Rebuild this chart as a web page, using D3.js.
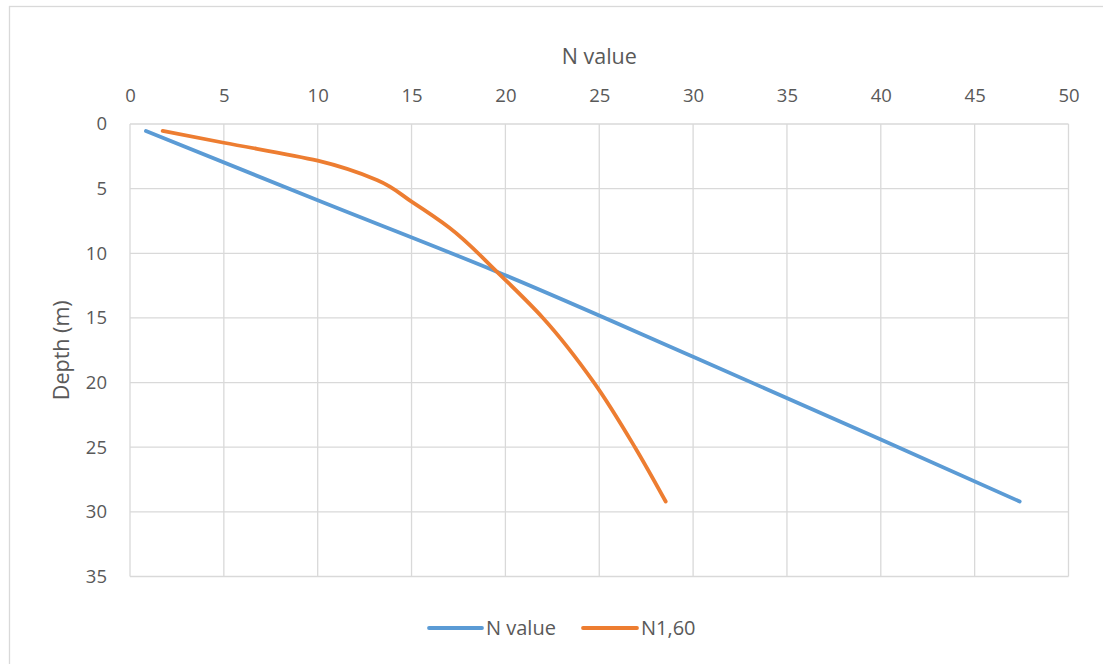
<!DOCTYPE html>
<html><head><meta charset="utf-8">
<script src="https://cdn.jsdelivr.net/npm/d3@7"></script>
<style>
html,body{margin:0;padding:0;background:#fff;}
svg text{font-family:"Open Sans",Calibri,sans-serif;fill:#595959;}
</style></head>
<body><svg id="chart" width="1103" height="664"></svg>
<script>
// Data
const nValueN     = [0.85, 10, 19.54, 30, 40, 47.4];
const nValueDepth = [0.54, 5.9, 11.42, 18.0, 24.4, 29.2];
const n160N       = [1.74, 5, 10, 13.15, 15, 17.0, 19.54, 22.0, 24.72, 26.9, 28.54];
const n160Depth   = [0.54, 1.45, 2.84, 4.33, 6.0, 8.0, 11.42, 15.0, 20.0, 25.0, 29.2];
const xTicks = [0,5,10,15,20,25,30,35,40,45,50];
const yTicks = [0,5,10,15,20,25,30,35];
const seriesNames = ["N value","N1,60"];
const colors = ["#5B9BD5","#ED7D31"];

const svg = d3.select("#chart");
svg.append("rect").attr("x",9.5).attr("y",6.5).attr("width",1110).attr("height",680)
  .attr("fill","#fff").attr("stroke","#D9D9D9").attr("stroke-width",1.3);

const L=130, R=1068.5, T=124, B=576.5;
const x = d3.scaleLinear().domain([0,50]).range([L,R]);
const y = d3.scaleLinear().domain([0,35]).range([T,B]);

// grid
const g = svg.append("g");
g.selectAll(".vx").data(xTicks).join("line")
  .attr("x1",d=>x(d)).attr("x2",d=>x(d)).attr("y1",T).attr("y2",B)
  .attr("stroke","#D9D9D9").attr("stroke-width",1.3);
g.selectAll(".hy").data(yTicks).join("line")
  .attr("y1",d=>y(d)).attr("y2",d=>y(d)).attr("x1",L).attr("x2",R)
  .attr("stroke","#D9D9D9").attr("stroke-width",1.3);

// axes
const xAxis = svg.append("g").attr("transform",`translate(0,${T})`)
  .call(d3.axisTop(x).tickValues(xTicks).tickSize(0).tickPadding(22));
xAxis.select(".domain").remove();
xAxis.selectAll("text").attr("font-size",18.5).style("font-family",null);
const yAxis = svg.append("g").attr("transform",`translate(${L},0)`)
  .call(d3.axisLeft(y).tickValues(yTicks).tickSize(0).tickPadding(23));
yAxis.select(".domain").remove();
yAxis.selectAll("text").attr("font-size",18.5).style("font-family",null);
svg.selectAll(".tick text").attr("fill","#595959");

// titles
svg.append("text").attr("x",(L+R)/2).attr("y",64).attr("text-anchor","middle")
  .attr("font-size",21.5).text("N value");
svg.append("text").attr("transform",`translate(69,${(T+B)/2}) rotate(-90)`)
  .attr("text-anchor","middle").attr("font-size",21.5).text("Depth (m)");

// lines
const line = d3.line().x(d=>x(d[0])).y(d=>y(d[1])).curve(d3.curveMonotoneY);
const s1 = nValueN.map((v,i)=>[v,nValueDepth[i]]);
const s2 = n160N.map((v,i)=>[v,n160Depth[i]]);
[s1,s2].forEach((s,i)=>{
  svg.append("path").datum(s).attr("d",line).attr("fill","none")
    .attr("stroke",colors[i]).attr("stroke-width",3.8).attr("stroke-linecap","round");
});

// legend
const leg = [{x1:429,x2:482,tx:486},{x1:583,x2:637,tx:641}];
leg.forEach((l,i)=>{
  svg.append("line").attr("x1",l.x1).attr("x2",l.x2).attr("y1",628).attr("y2",628)
    .attr("stroke",colors[i]).attr("stroke-width",3.8).attr("stroke-linecap","round");
  svg.append("text").attr("x",l.tx).attr("y",635).attr("font-size",20).text(seriesNames[i]);
});
</script></body></html>
